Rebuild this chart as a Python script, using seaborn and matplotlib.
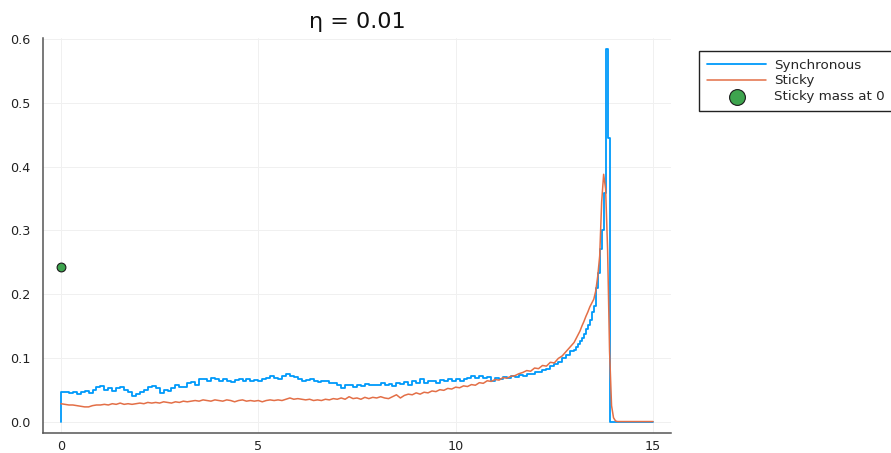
import numpy as np
import pandas as pd
import matplotlib
matplotlib.use("Agg")
import matplotlib.pyplot as plt
import seaborn as sns

# ---------------- data ----------------
title = "η = 0.01"
series_names = ["Synchronous", "Sticky", "Sticky mass at 0"]

# bin edges of the synchronous histogram (0.1 wide up to 13, 0.05 wide after)
sync_edges = np.round(np.concatenate([np.arange(0, 13.0, 0.1),
                                      np.arange(13.0, 15.0001, 0.05)]), 3)
sync_values = [
    0.046, 0.047, 0.045, 0.047, 0.044, 0.046, 0.048, 0.045, 0.050, 0.054,
    0.056, 0.050, 0.052, 0.048, 0.053, 0.055, 0.049, 0.046, 0.040, 0.044,
    0.047, 0.050, 0.054, 0.056, 0.052, 0.045, 0.050, 0.048, 0.053, 0.057,
    0.055, 0.054, 0.060, 0.062, 0.058, 0.066, 0.067, 0.064, 0.068, 0.066,
    0.063, 0.066, 0.064, 0.062, 0.065, 0.066, 0.063, 0.067, 0.064, 0.065,
    0.063, 0.066, 0.068, 0.072, 0.069, 0.066, 0.071, 0.074, 0.072, 0.070,
    0.066, 0.064, 0.065, 0.066, 0.064, 0.062, 0.063, 0.064, 0.060, 0.061,
    0.058, 0.053, 0.058, 0.057, 0.055, 0.058, 0.056, 0.059, 0.057, 0.058,
    0.057, 0.060, 0.058, 0.059, 0.056, 0.060, 0.059, 0.062, 0.058, 0.063,
    0.061, 0.066, 0.061, 0.063, 0.064, 0.060, 0.065, 0.063, 0.066, 0.064,
    0.067, 0.064, 0.066, 0.068, 0.071, 0.069, 0.071, 0.068, 0.070, 0.064,
    0.068, 0.066, 0.070, 0.069, 0.071, 0.070, 0.073, 0.072, 0.075, 0.074,
    0.078, 0.077, 0.081, 0.083, 0.087, 0.090, 0.094, 0.099, 0.104, 0.110,
    # 13.00 .. 14.95 (0.05 bins)
    0.113, 0.117, 0.121, 0.126, 0.131, 0.137, 0.145, 0.152, 0.160, 0.172,
    0.182, 0.210, 0.233, 0.270, 0.300, 0.358, 0.585, 0.445, 0.000, 0.000,
    0.000, 0.000, 0.000, 0.000, 0.000, 0.000, 0.000, 0.000, 0.000, 0.000,
    0.000, 0.000, 0.000, 0.000, 0.000, 0.000, 0.000, 0.000, 0.000, 0.000,
]

# sticky density evaluated on a grid
sticky_x = sync_edges
sticky_values = [
    0.028, 0.027, 0.026, 0.026, 0.025, 0.024, 0.023, 0.023, 0.025, 0.026,
    0.026, 0.027, 0.026, 0.028, 0.027, 0.029, 0.027, 0.028, 0.027, 0.028,
    0.029, 0.028, 0.030, 0.029, 0.030, 0.029, 0.031, 0.030, 0.029, 0.031,
    0.030, 0.032, 0.031, 0.032, 0.033, 0.032, 0.034, 0.033, 0.032, 0.034,
    0.033, 0.032, 0.034, 0.033, 0.031, 0.033, 0.034, 0.032, 0.033, 0.032,
    0.033, 0.031, 0.033, 0.034, 0.033, 0.034, 0.033, 0.035, 0.037, 0.035,
    0.036, 0.035, 0.034, 0.035, 0.033, 0.034, 0.033, 0.035, 0.034, 0.036,
    0.035, 0.037, 0.035, 0.039, 0.036, 0.037, 0.035, 0.038, 0.036, 0.038,
    0.037, 0.039, 0.037, 0.036, 0.039, 0.042, 0.037, 0.041, 0.043, 0.042,
    0.045, 0.043, 0.046, 0.045, 0.048, 0.047, 0.050, 0.049, 0.052, 0.051,
    0.054, 0.053, 0.056, 0.055, 0.058, 0.057, 0.061, 0.060, 0.064, 0.063,
    0.066, 0.065, 0.069, 0.068, 0.071, 0.072, 0.075, 0.077, 0.080, 0.079,
    0.084, 0.083, 0.088, 0.087, 0.093, 0.092, 0.099, 0.103, 0.110, 0.117,
    # 13.00 .. 15.00 (0.05 steps)
    0.124, 0.130, 0.136, 0.142, 0.150, 0.157, 0.165, 0.172, 0.180, 0.186,
    0.192, 0.205, 0.228, 0.260, 0.345, 0.388, 0.365, 0.270, 0.110, 0.025,
    0.006, 0.001, 0.000, 0.000, 0.000, 0.000, 0.000, 0.000, 0.000, 0.000,
    0.000, 0.000, 0.000, 0.000, 0.000, 0.000, 0.000, 0.000, 0.000, 0.000,
    0.000,
]

sticky_mass_x = [0.0]
sticky_mass = [0.242]

x_ticks = [0, 5, 10, 15]
y_ticks = [0.0, 0.1, 0.2, 0.3, 0.4, 0.5, 0.6]
y_tick_labels = ["0.0", "0.1", "0.2", "0.3", "0.4", "0.5", "0.6"]

# ---------------- plot ----------------
sns.set_theme(style="white")
plt.rcParams["font.family"] = ["DejaVu Sans"]

BLUE = "#009AFA"
RED = "#E36F47"
GREEN = "#3EA44E"

fig = plt.figure(figsize=(8.91, 4.53), dpi=100)
ax = fig.add_axes([0.0485, 0.0448, 0.7043, 0.8722])

# step outline: start at the baseline, steps-post over the bins
step_x = np.concatenate([[sync_edges[0]], sync_edges])
step_y = np.concatenate([[0.0], sync_values, [sync_values[-1]]])
sync_df = pd.DataFrame({"x": step_x, "y": step_y})
sticky_df = pd.DataFrame({"x": sticky_x, "y": sticky_values})

sns.lineplot(data=sync_df, x="x", y="y", estimator=None, sort=False,
             drawstyle="steps-post", color=BLUE, linewidth=1.3,
             label=series_names[0], ax=ax, zorder=3)
sns.lineplot(data=sticky_df, x="x", y="y", estimator=None, sort=False,
             color=RED, linewidth=1.1, label=series_names[1], ax=ax, zorder=4)
sns.scatterplot(x=sticky_mass_x, y=sticky_mass, s=40, color=GREEN,
                edgecolor="#1a1a1a", linewidth=0.8, label=series_names[2],
                ax=ax, zorder=5)

ax.set_xlim(-0.45, 15.45)
ax.set_ylim(-0.0175, 0.6025)
ax.set_xticks(x_ticks)
ax.set_yticks(y_ticks)
ax.set_yticklabels(y_tick_labels)
ax.set_xlabel("")
ax.set_ylabel("")

ax.grid(True, color="#f0f0f0", linewidth=0.7)
ax.set_axisbelow(True)
for s in ["top", "right"]:
    ax.spines[s].set_visible(False)
for s in ["left", "bottom"]:
    ax.spines[s].set_color("#555555")
    ax.spines[s].set_linewidth(1.1)

ax.tick_params(axis="both", direction="in", length=3.5, width=0.9,
               color="#333333", labelsize=9.2, labelcolor="#222222")
ax.tick_params(axis="y", pad=9)
ax.tick_params(axis="x", pad=5)

ax.set_title(title, fontsize=16, pad=7, color="#111111")

leg = ax.legend(loc="upper left", bbox_to_anchor=(699 / 891, 1 - 50.7 / 453),
                bbox_transform=fig.transFigure, frameon=True, fancybox=False,
                framealpha=1, edgecolor="#222222", fontsize=9.7,
                handlelength=4.4, handletextpad=0.6, labelspacing=0.2,
                borderpad=0.6, borderaxespad=0, markerscale=1.8)
leg.get_frame().set_linewidth(1.0)

fig.savefig("out.png", dpi=100)
